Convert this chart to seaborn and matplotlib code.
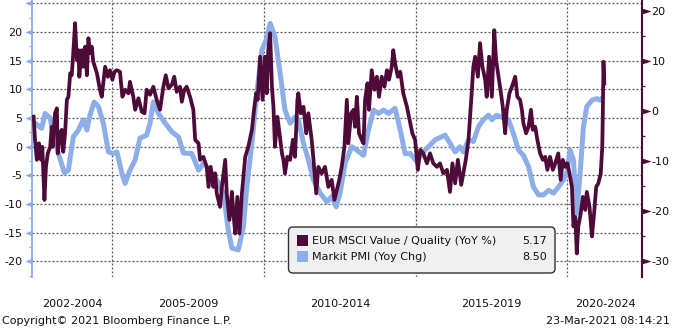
import numpy as np
import pandas as pd
import matplotlib
matplotlib.use("Agg")
import matplotlib.pyplot as plt
from matplotlib.patches import FancyBboxPatch, Rectangle
from matplotlib.transforms import blended_transform_factory
import seaborn as sns

# Markit PMI, year-on-year change (left axis)
pmi_year = [
    2002.45, 2002.67, 2002.78, 2002.95, 2003.05, 2003.22, 2003.42, 2003.55, 2003.71, 2003.88,
    2004.04, 2004.16, 2004.26, 2004.40, 2004.54, 2004.70, 2004.87, 2005.03, 2005.15, 2005.31,
    2005.42, 2005.58, 2005.75, 2005.91, 2006.13, 2006.24, 2006.35, 2006.52, 2006.74, 2006.96,
    2007.18, 2007.34, 2007.62, 2007.84, 2008.00, 2008.22, 2008.44, 2008.66, 2008.82, 2008.94,
    2009.15, 2009.32, 2009.43, 2009.60, 2009.76, 2009.93, 2010.07, 2010.20, 2010.36, 2010.53,
    2010.69, 2010.86, 2011.02, 2011.13, 2011.30, 2011.46, 2011.63, 2011.85, 2012.07, 2012.23,
    2012.38, 2012.51, 2012.67, 2012.89, 2013.06, 2013.28, 2013.44, 2013.61, 2013.77, 2013.94,
    2014.10, 2014.32, 2014.49, 2014.65, 2014.82, 2015.04, 2015.20, 2015.42, 2015.64, 2015.97,
    2016.13, 2016.30, 2016.46, 2016.57, 2016.74, 2016.90, 2017.07, 2017.23, 2017.40, 2017.51,
    2017.67, 2017.89, 2018.06, 2018.22, 2018.39, 2018.55, 2018.72, 2018.88, 2019.05, 2019.21,
    2019.38, 2019.54, 2019.71, 2019.87, 2019.98, 2020.09, 2020.20, 2020.31, 2020.42, 2020.53,
    2020.64, 2020.81, 2020.97, 2021.08, 2021.14,
]
pmi_chg = [
    4.1, 3.2, 5.8, 5.0, 2.3, -1.2, -4.6, -4.1, 1.7, 2.9,
    4.7, 2.9, 5.5, 7.8, 7.0, 4.1, -0.9, -1.2, -0.9, -4.6,
    -6.4, -4.1, -2.3, 1.5, 2.0, 4.1, 7.8, 5.8, 4.1, 2.6,
    1.7, -1.1, -1.2, -4.1, -2.9, -4.1, -5.8, -8.1, -14.5, -17.7,
    -18.0, -14.0, -7.0, 0.6, 9.3, 16.9, 18.6, 21.5, 19.2, 12.8,
    6.4, 4.1, 5.2, 4.7, 0.6, -2.3, -5.8, -8.1, -9.6, -8.7,
    -10.5, -8.0, -2.9, 0.0, -0.6, -1.5, 2.9, 6.4, 5.8, 6.4,
    5.8, 6.7, 2.9, -1.2, -1.2, -2.6, -1.2, 0.0, 1.2, 2.0,
    0.6, -0.9, 0.0, -0.9, 1.2, 0.9, 3.5, 4.7, 5.5, 4.7,
    5.5, 5.0, 4.7, 2.3, -0.6, -1.5, -3.5, -7.0, -8.4, -8.4,
    -7.6, -8.1, -7.0, -5.8, -4.6, -0.6, -2.3, -11.6, -4.6, 3.5,
    7.0, 8.1, 8.4, 8.1, 8.5,
]

# EUR MSCI Value / Quality, year-on-year % (right axis)
vq_year = [
    2002.40, 2002.45, 2002.51, 2002.58, 2002.65, 2002.69, 2002.76, 2002.81, 2002.87, 2002.95,
    2003.00, 2003.03, 2003.11, 2003.17, 2003.20, 2003.28, 2003.33, 2003.38, 2003.44, 2003.50,
    2003.55, 2003.61, 2003.66, 2003.71, 2003.77, 2003.83, 2003.88, 2003.91, 2003.99, 2004.04,
    2004.10, 2004.16, 2004.21, 2004.26, 2004.32, 2004.37, 2004.49, 2004.59, 2004.65, 2004.76,
    2004.85, 2004.92, 2005.00, 2005.07, 2005.15, 2005.25, 2005.33, 2005.42, 2005.53, 2005.58,
    2005.69, 2005.75, 2005.86, 2005.97, 2006.06, 2006.13, 2006.24, 2006.35, 2006.46, 2006.57,
    2006.68, 2006.76, 2006.85, 2006.96, 2007.04, 2007.12, 2007.23, 2007.29, 2007.37, 2007.45,
    2007.56, 2007.67, 2007.73, 2007.84, 2007.89, 2008.00, 2008.11, 2008.17, 2008.24, 2008.33,
    2008.39, 2008.44, 2008.55, 2008.61, 2008.72, 2008.77, 2008.86, 2008.94, 2008.99, 2009.05,
    2009.12, 2009.19, 2009.27, 2009.38, 2009.48, 2009.60, 2009.67, 2009.74, 2009.79, 2009.87,
    2009.95, 2010.03, 2010.09, 2010.14, 2010.20, 2010.26, 2010.31, 2010.36, 2010.44, 2010.51,
    2010.59, 2010.64, 2010.69, 2010.77, 2010.86, 2010.95, 2011.02, 2011.10, 2011.13, 2011.21,
    2011.30, 2011.39, 2011.46, 2011.57, 2011.63, 2011.72, 2011.79, 2011.90, 2012.01, 2012.12,
    2012.23, 2012.32, 2012.40, 2012.48, 2012.56, 2012.65, 2012.73, 2012.78, 2012.87, 2012.95,
    2013.00, 2013.06, 2013.13, 2013.22, 2013.28, 2013.33, 2013.41, 2013.46, 2013.55, 2013.64,
    2013.72, 2013.79, 2013.88, 2013.97, 2014.05, 2014.12, 2014.21, 2014.26, 2014.32, 2014.41,
    2014.49, 2014.59, 2014.71, 2014.82, 2014.89, 2014.98, 2015.07, 2015.15, 2015.25, 2015.37,
    2015.47, 2015.58, 2015.70, 2015.80, 2015.91, 2016.03, 2016.13, 2016.21, 2016.30, 2016.39,
    2016.50, 2016.57, 2016.65, 2016.74, 2016.83, 2016.90, 2016.96, 2017.05, 2017.12, 2017.20,
    2017.29, 2017.34, 2017.42, 2017.51, 2017.59, 2017.65, 2017.73, 2017.81, 2017.87, 2017.95,
    2018.00, 2018.09, 2018.17, 2018.28, 2018.35, 2018.44, 2018.50, 2018.55, 2018.64, 2018.72,
    2018.80, 2018.86, 2018.94, 2019.01, 2019.10, 2019.19, 2019.27, 2019.34, 2019.43, 2019.52,
    2019.60, 2019.70, 2019.78, 2019.85, 2019.93, 2020.00, 2020.07, 2020.15, 2020.20, 2020.26,
    2020.31, 2020.36, 2020.44, 2020.51, 2020.59, 2020.64, 2020.73, 2020.81, 2020.88, 2020.95,
    2021.02, 2021.10, 2021.15, 2021.17, 2021.19, 2021.22,
]
vq_yoy = [
    -0.7, -5.7, -9.7, -6.4, -9.7, -7.1, -17.7, -11.1, -8.4, -7.1,
    -3.1, -7.1, -0.4, 0.6, -8.4, -4.4, -3.7, -8.1, -4.4, 2.3,
    2.9, 7.6, 7.2, 11.6, 17.6, 10.2, 12.2, 6.9, 12.2, 8.9,
    12.9, 7.2, 14.6, 11.6, 12.9, 9.9, 7.6, 4.3, 2.9, 8.9,
    6.9, 8.2, 6.3, 7.9, 8.2, 7.9, 2.9, 4.3, 3.6, 5.9,
    2.9, 0.3, 2.6, -0.1, -0.4, 4.3, 3.3, 4.9, 2.3, 0.3,
    4.9, 7.2, 4.6, 5.3, 6.9, 3.9, 4.9, 1.9, 4.3, 4.9,
    2.9, 0.3, -5.7, -6.4, -9.7, -9.1, -11.1, -15.1, -11.1, -15.1,
    -12.4, -16.4, -19.1, -15.1, -9.7, -16.4, -21.7, -16.1, -20.4, -24.4,
    -17.1, -24.4, -16.4, -9.1, -7.1, -3.7, 0.3, 3.6, 2.3, 10.9,
    2.3, 10.9, 3.6, 12.2, 15.6, 4.9, 0.9, -7.1, -1.1, -4.4,
    -8.4, -9.7, -12.4, -9.1, -9.7, -5.7, -9.1, 2.3, 3.6, -0.4,
    0.9, -4.4, -0.4, -5.7, -9.7, -16.4, -11.1, -12.4, -11.1, -15.1,
    -13.7, -17.7, -15.7, -13.7, -11.1, -7.1, 2.3, -6.4, -0.4, 0.3,
    -3.1, 2.9, -4.4, -5.7, -6.4, 2.3, 5.6, 0.3, 8.2, 4.3,
    6.9, 2.9, 6.9, 4.9, 8.2, 6.3, 8.9, 12.2, 9.6, 6.9,
    7.9, 3.6, 0.9, -2.4, -4.4, -5.7, -11.7, -7.7, -8.4, -10.4,
    -8.4, -10.4, -11.1, -10.4, -12.4, -11.7, -16.1, -10.4, -14.4, -9.7,
    -14.7, -12.4, -9.7, -5.7, 2.3, 8.9, 10.9, 6.9, 13.6, 8.9,
    6.3, 2.9, 10.9, 2.9, 16.2, 10.2, 6.9, 3.6, 0.9, -4.4,
    0.3, 3.6, 4.9, 6.9, 2.9, 2.3, 0.3, -2.4, -4.4, -3.1,
    0.3, -3.7, -3.1, -5.7, -8.4, -9.7, -9.1, -11.7, -9.1, -11.7,
    -10.4, -8.4, -13.7, -9.7, -11.1, -10.4, -12.4, -15.1, -23.0, -21.1,
    -28.4, -23.0, -20.4, -17.1, -19.7, -16.1, -19.1, -25.0, -20.4, -15.1,
    -14.4, -12.4, -7.1, 0.3, 9.9, 5.17,
]

period_labels = ["2002-2004", "2005-2009", "2010-2014", "2015-2019", "2020-2024"]
period_mids = [2003.68, 2007.5, 2012.5, 2017.5, 2021.25]
period_breaks = [2005, 2010, 2015, 2020]

left_major = [-20, -15, -10, -5, 0, 5, 10, 15, 20, 25]
left_minor = [-22.5, -17.5, -12.5, -7.5, -2.5, 2.5, 7.5, 12.5, 17.5, 22.5]
right_major = [-30, -20, -10, 0, 10, 20]
right_minor = [-25, -15, -5, 5, 15]

vq_name = "EUR MSCI Value / Quality (YoY %)"
pmi_name = "Markit PMI (Yoy Chg)"

MAROON = "#4E0B3A"
BLUE = "#8DAEE8"
TEXT = "#111111"
GRID = "#5A5A5A"

sns.set_style("white")
plt.rcParams["font.family"] = ["DejaVu Sans"]

W, H = 675, 329
fig = plt.figure(figsize=(W / 100, H / 100), dpi=100)
ax_left, ax_right, ax_top, ax_bot = 32.3, 641.7, 0.0, 276.5
ax = fig.add_axes([ax_left / W, 1 - ax_bot / H, (ax_right - ax_left) / W, (ax_bot - ax_top) / H])
ax2 = ax.twinx()

pmi = pd.DataFrame({"year": pmi_year, "chg": pmi_chg})
vq = pd.DataFrame({"year": vq_year, "yoy": vq_yoy})

sns.lineplot(data=pmi, x="year", y="chg", ax=ax, color=BLUE, linewidth=3.6,
             solid_joinstyle="round", solid_capstyle="round")
sns.lineplot(data=vq, x="year", y="yoy", ax=ax2, color=MAROON, linewidth=2.7,
             solid_joinstyle="round", solid_capstyle="butt")

ax.set_xlim(2002.36, 2022.45)
ax.set_ylim(-22.64, 25.59)
ax2.set_ylim(-33.0, 22.23)
for a in (ax, ax2):
    a.set_xlabel("")
    a.set_ylabel("")

# spines
for s in ("top", "right", "bottom"):
    ax.spines[s].set_visible(False)
for s in ("top", "left", "bottom"):
    ax2.spines[s].set_visible(False)
ax.spines["left"].set_color(BLUE)
ax.spines["left"].set_linewidth(1.3)
ax2.spines["right"].set_color(MAROON)
ax2.spines["right"].set_linewidth(1.5)

# left axis ticks
ax.set_yticks(left_major)
ax.set_yticklabels([str(v) if v <= 20 else "" for v in left_major])
ax.set_yticks(left_minor, minor=True)
ax.tick_params(axis="y", which="major", length=0, pad=7, labelsize=8, labelcolor=TEXT)
ax.tick_params(axis="y", which="minor", length=2.2, width=0.9, color=BLUE, direction="out")

# right axis ticks
ax2.set_yticks(right_major)
ax2.set_yticklabels([str(v) for v in right_major])
ax2.set_yticks(right_minor, minor=True)
ax2.tick_params(axis="y", which="major", length=0, pad=7, labelsize=8, labelcolor=TEXT)
ax2.tick_params(axis="y", which="minor", length=2.2, width=0.9, color=MAROON, direction="out")

# triangular major tick marks
tri_left = [(0, 0.39), (-1, 0), (0, -0.39), (0, 0.39)]
tri_right = [(0, 0.32), (1, 0), (0, -0.32), (0, 0.32)]
ax.plot([0] * len(left_major), left_major, linestyle="none", marker=tri_left,
        markersize=10.5, color=BLUE, markeredgewidth=0, clip_on=False,
        transform=blended_transform_factory(ax.transAxes, ax.transData))
ax2.plot([1] * len(right_major), right_major, linestyle="none", marker=tri_right,
         markersize=13, color=MAROON, markeredgewidth=0, clip_on=False,
         transform=blended_transform_factory(ax2.transAxes, ax2.transData))

# x axis: period labels between yearly breaks
ax.set_xticks(period_mids)
ax.set_xticklabels(period_labels)
ax.set_xticks(period_breaks, minor=True)
ax.tick_params(axis="x", which="both", length=0, pad=16, labelsize=8, labelcolor=TEXT)

# grid
ax.grid(False)
ax2.grid(False)
dots = (0, (1.6, 1.6))
ax.grid(axis="y", which="major", color=GRID, linewidth=0.9, linestyle=dots)
ax.grid(axis="x", which="minor", color=GRID, linewidth=0.9, linestyle=dots)

# legend box with last values
dpi_tr = fig.dpi_scale_trans
box = FancyBboxPatch((288.5 / 100, (H - 273) / 100), 266.5 / 100, 46 / 100,
                     boxstyle="round,pad=0,rounding_size=0.045",
                     transform=dpi_tr, facecolor="#F0F0F0", edgecolor="#303030",
                     linewidth=1.0, zorder=10)
fig.add_artist(box)
rows = [
    (MAROON, vq_name, f"{vq_yoy[-1]:.2f}", 240.7),
    (BLUE, pmi_name, f"{pmi_chg[-1]:.2f}", 256.5),
]
for color, name, val, yc in rows:
    fig.add_artist(Rectangle((297.3 / 100, (H - yc - 5.4) / 100), 11 / 100, 10.8 / 100,
                             transform=dpi_tr, facecolor=color, edgecolor="none", zorder=11))
    fig.text(311.7 / W, 1 - yc / H, name, fontsize=8, color=TEXT, ha="left",
             va="center", zorder=12)
    fig.text(546.7 / W, 1 - yc / H, val, fontsize=8, color=TEXT, ha="right",
             va="center", zorder=12)

# footer
fig.text(2 / W, 1 - 321 / H, "Copyright\u00a9 2021 Bloomberg Finance L.P.", fontsize=8,
         color=TEXT, ha="left", va="center")
fig.text(670 / W, 1 - 321 / H, "23-Mar-2021 08:14:21", fontsize=8, color=TEXT,
         ha="right", va="center")

fig.savefig("out.png", dpi=100)
